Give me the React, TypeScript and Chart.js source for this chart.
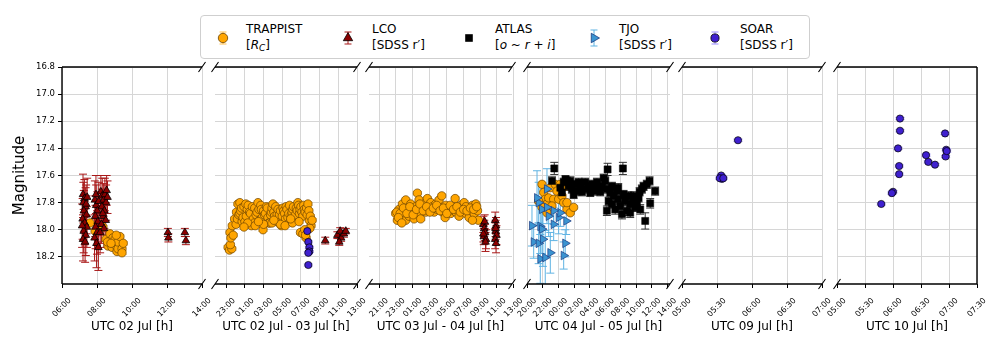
import React, { useEffect, useRef } from 'react';
import { Chart, registerables } from 'chart.js';

Chart.register(...registerables);
Chart.defaults.font.family = "'DejaVu Sans', 'Liberation Sans', sans-serif";
Chart.defaults.color = '#000';

// ---------------- DATA ----------------
const Y_TICKS = [16.8, 17.0, 17.2, 17.4, 17.6, 17.8, 18.0, 18.2];
const Y_MIN = 16.8;
const Y_MAX = 18.4;

const P1_TICKS = [6, 8, 10, 12, 14];
const P1_LABELS = ['06:00', '08:00', '10:00', '12:00', '14:00'];
const P2_TICKS = [23, 25, 27, 29, 31, 33, 35, 37];
const P2_LABELS = ['23:00', '01:00', '03:00', '05:00', '07:00', '09:00', '11:00', '13:00'];
const P3_TICKS = [21, 23, 25, 27, 29, 31, 33, 35, 37];
const P3_LABELS = ['21:00', '23:00', '01:00', '03:00', '05:00', '07:00', '09:00', '11:00', '13:00'];
const P4_TICKS = [20, 22, 24, 26, 28, 30, 32, 34, 36, 38];
const P4_LABELS = ['20:00', '22:00', '00:00', '02:00', '04:00', '06:00', '08:00', '10:00', '12:00', '14:00'];
const P5_TICKS = [5, 5.5, 6, 6.5, 7];
const P5_LABELS = ['05:00', '05:30', '06:00', '06:30', '07:00'];
const P6_TICKS = [5, 5.5, 6, 6.5, 7, 7.5];
const P6_LABELS = ['05:00', '05:30', '06:00', '06:30', '07:00', '07:30'];

const X_TITLES = [
  'UTC 02 Jul [h]',
  'UTC 02 Jul - 03 Jul [h]',
  'UTC 03 Jul - 04 Jul [h]',
  'UTC 04 Jul - 05 Jul [h]',
  'UTC 09 Jul [h]',
  'UTC 10 Jul [h]',
];
const X_RANGES: [number, number][] = [[6, 14], [21.8, 37], [19.8, 36.8], [19.95, 38.35], [5, 7], [5, 7.5]];

const SERIES_NAMES = ['TRAPPIST', 'LCO', 'ATLAS', 'TJO', 'SOAR'];

// [hour, magnitude, error]
const P1_TRAPPIST = [
  [7.6, 17.95], [7.89, 18.01], [8.34, 17.98], [8.51, 18.07], [8.63, 18.12], [8.74, 18.08], [8.74, 18.03],
  [8.86, 18.13], [8.91, 18.06], [9.03, 18.11], [9.03, 18.07], [9.14, 18.16], [9.2, 18.14], [9.2, 18.09],
  [9.31, 18.05], [9.43, 18.14], [9.43, 18.17], [9.5, 18.1], [8.6, 18.09], [8.8, 18.1], [9.1, 18.04],
];
const P1_LCO = [
  [7.2, 17.74, 0.15], [7.28, 17.77, 0.14], [7.22, 17.8, 0.15], [7.35, 17.83, 0.14], [7.25, 17.86, 0.15],
  [7.4, 17.89, 0.14], [7.18, 17.92, 0.15], [7.3, 17.95, 0.16], [7.42, 17.98, 0.15], [7.24, 18.01, 0.16],
  [7.36, 18.04, 0.15], [7.2, 18.07, 0.16], [7.32, 18.09, 0.15], [7.44, 17.76, 0.14], [7.15, 17.97, 0.16],
  [7.38, 17.81, 0.14],
  [7.88, 17.78, 0.14], [7.95, 17.82, 0.15], [8.02, 17.86, 0.14], [7.9, 17.9, 0.15], [8.05, 17.94, 0.15],
  [7.92, 17.98, 0.16], [8.0, 18.02, 0.16], [7.86, 18.06, 0.17], [7.97, 18.1, 0.18], [8.08, 18.13, 0.17],
  [7.94, 17.74, 0.14], [8.1, 17.79, 0.14],
  [8.22, 17.72, 0.12], [8.3, 17.75, 0.13], [8.38, 17.78, 0.12], [8.45, 17.74, 0.12], [8.52, 17.8, 0.13],
  [8.6, 17.76, 0.12], [8.28, 17.83, 0.13], [8.42, 17.86, 0.13], [8.35, 17.9, 0.14], [8.5, 17.93, 0.13],
  [8.25, 17.96, 0.14], [8.4, 17.99, 0.14], [8.18, 18.02, 0.15], [8.55, 17.71, 0.11], [8.33, 17.88, 0.13],
  [12.05, 18.02, 0.03], [12.08, 18.06, 0.03], [13.02, 18.02, 0.03], [13.08, 18.08, 0.03],
];

const P2_TRAPPIST = [
  [23.2, 18.13], [23.35, 18.15], [23.6, 18.14], [23.45, 18.11], [23.4, 18.02], [23.5, 18.06], [23.65, 17.97],
  [23.75, 18.04], [23.9, 17.92], [24.05, 17.96], [24.1, 17.87], [24.25, 17.81], [24.2, 17.92], [24.35, 17.89],
  [24.46, 17.8], [24.46, 17.88], [24.55, 17.86], [24.64, 17.84], [24.7, 17.94], [24.8, 17.91], [24.9, 17.83],
  [25.0, 17.94], [25.1, 17.81], [25.15, 17.9], [25.25, 17.85], [25.35, 17.82], [25.5, 17.87], [25.6, 17.88],
  [25.7, 17.97], [25.8, 17.83], [25.9, 17.92], [26.0, 17.95], [26.05, 17.84], [26.2, 17.89], [26.3, 17.87],
  [26.4, 17.8], [26.5, 17.85], [26.6, 17.93], [26.7, 17.82], [26.76, 17.85], [26.85, 17.91], [26.94, 18.0],
  [27.0, 17.86], [27.1, 17.89], [27.2, 17.88], [27.3, 17.83], [27.4, 17.84], [27.47, 17.91], [27.55, 17.95],
  [27.65, 17.95], [27.75, 17.89], [27.83, 17.87], [27.9, 17.84], [28.0, 17.81], [28.1, 17.87], [28.18, 17.9],
  [28.3, 17.83], [28.36, 17.94], [28.45, 17.89], [28.54, 17.85], [28.6, 17.92], [28.7, 17.89], [28.8, 17.86],
  [28.9, 17.97], [29.0, 17.9], [29.07, 17.84], [29.15, 17.86], [29.25, 17.88], [29.35, 17.92], [29.42, 17.83],
  [29.5, 17.85], [29.6, 17.91], [29.7, 17.88], [29.78, 17.82], [29.85, 17.94], [29.96, 17.89], [30.05, 17.87],
  [30.13, 17.85], [30.2, 17.83], [30.3, 17.93], [30.4, 17.89], [30.5, 17.84], [30.6, 17.86], [30.67, 17.8],
  [30.75, 17.82], [30.84, 17.88], [30.9, 17.85], [31.0, 17.83], [31.1, 17.87], [31.2, 17.9], [31.3, 17.82],
  [31.37, 17.85], [31.45, 17.87], [31.6, 17.84], [31.66, 17.89], [31.75, 17.81], [31.85, 17.86], [31.9, 17.93],
  [32.0, 17.9], [32.08, 17.97], [31.95, 17.99], [32.2, 17.93], [30.95, 18.02], [31.2, 18.03], [31.4, 18.0],
  [31.55, 18.06], [31.5, 18.04], [25.3, 17.95], [26.1, 17.97], [27.0, 17.96], [27.9, 17.95], [28.8, 17.96],
  [29.3, 17.97], [30.1, 17.95], [30.8, 17.94], [24.9, 17.98], [28.1, 17.93], [26.45, 17.94], [29.9, 17.92],
];
const P2_SOAR = [
  [31.68, 18.01], [31.79, 18.09], [31.9, 18.13], [31.9, 18.16], [31.79, 18.17], [31.79, 18.26],
];
const P2_LCO = [
  [33.6, 18.08, 0.025], [34.9, 18.04, 0.025], [35.2, 18.01, 0.025], [35.3, 18.06, 0.025], [35.6, 18.03, 0.025],
  [35.8, 18.01, 0.02], [35.1, 18.09, 0.025],
];

const P3_TRAPPIST = [
  [22.97, 17.88], [23.17, 17.93], [23.37, 17.85], [23.57, 17.92], [23.77, 17.9], [23.77, 17.81], [24.17, 17.78],
  [24.17, 17.93], [24.36, 17.85], [24.56, 17.9], [24.76, 17.81], [24.96, 17.86], [25.16, 17.92], [25.55, 17.73],
  [25.36, 17.83], [25.75, 17.78], [25.75, 17.88], [25.95, 17.92], [26.15, 17.84], [26.35, 17.81], [26.55, 17.87],
  [26.74, 17.77], [26.94, 17.85], [27.14, 17.8], [27.34, 17.83], [27.54, 17.87], [27.74, 17.81], [27.93, 17.85],
  [28.13, 17.78], [28.45, 17.75], [28.33, 17.84], [28.53, 17.87], [28.85, 17.91], [28.93, 17.82], [29.13, 17.86],
  [29.32, 17.84], [29.52, 17.88], [29.72, 17.83], [30.04, 17.77], [29.92, 17.86], [30.12, 17.87], [30.32, 17.84],
  [30.51, 17.9], [30.71, 17.82], [30.91, 17.86], [31.11, 17.8], [31.31, 17.88], [31.51, 17.84], [31.71, 17.91],
  [31.9, 17.86], [32.1, 17.82], [32.3, 17.88], [32.5, 17.81], [32.7, 17.86], [32.8, 17.93], [32.1, 17.93],
  [31.31, 17.83], [23.1, 17.87], [23.5, 17.88], [23.9, 17.84], [24.3, 17.88], [24.65, 17.83], [25.05, 17.89],
  [25.45, 17.85], [25.85, 17.81], [26.25, 17.86], [26.65, 17.83], [27.05, 17.87], [27.45, 17.84], [27.85, 17.82],
  [28.25, 17.86], [28.65, 17.84], [29.05, 17.88], [29.45, 17.82], [29.85, 17.85], [30.25, 17.83], [30.65, 17.87],
  [31.05, 17.85], [31.45, 17.86], [31.85, 17.84], [32.25, 17.85], [32.6, 17.83], [23.3, 17.91], [23.7, 17.95],
];
const P3_LCO = [
  [33.4, 17.96, 0.06], [33.5, 17.99, 0.06], [33.6, 18.02, 0.06], [33.45, 18.05, 0.06], [33.7, 18.07, 0.07],
  [33.55, 17.94, 0.05], [33.65, 18.09, 0.07], [33.4, 18.03, 0.06],
  [34.8, 17.93, 0.06], [34.9, 17.97, 0.06], [34.85, 18.01, 0.06], [34.95, 18.04, 0.07], [34.8, 18.07, 0.07],
  [34.9, 18.1, 0.07], [34.85, 17.99, 0.06],
];

const P4_TRAPPIST = [
  [21.88, 17.665], [22.1, 17.725], [22.3, 17.775], [22.52, 17.81], [21.88, 17.835], [22.74, 17.765], [22.95, 17.69],
  [23.59, 17.665], [23.81, 17.715], [23.38, 17.775], [24.02, 17.775], [24.45, 17.75], [24.67, 17.8], [25.09, 17.85],
  [25.52, 17.875], [25.95, 17.835], [24.23, 17.665], [24.87, 17.68], [22.52, 17.875], [21.45, 17.79], [23.16, 17.825],
  [25.09, 17.8],
];
const P4_ATLAS = [
  [23.46, 17.548, 0.045], [23.17, 17.64, 0.03], [24.67, 17.65, 0.03], [25.0, 17.64, 0.03], [25.31, 17.68, 0.03],
  [25.73, 17.7, 0.03], [26.16, 17.665, 0.03], [26.38, 17.715, 0.03], [26.8, 17.68, 0.03], [27.02, 17.72, 0.03],
  [27.44, 17.65, 0.03], [27.88, 17.68, 0.03], [28.3, 17.665, 0.03], [28.52, 17.715, 0.03], [28.95, 17.65, 0.03],
  [29.17, 17.7, 0.03], [29.59, 17.68, 0.03], [29.81, 17.62, 0.03], [30.02, 17.64, 0.03], [30.32, 17.555, 0.045],
  [30.23, 17.7, 0.03], [30.66, 17.725, 0.03], [30.45, 17.79, 0.03], [30.23, 17.86, 0.035], [30.88, 17.81, 0.03],
  [31.1, 17.75, 0.03], [31.52, 17.715, 0.03], [31.69, 17.775, 0.03], [31.95, 17.825, 0.03], [32.29, 17.548, 0.045],
  [32.38, 17.74, 0.03], [32.59, 17.79, 0.03], [32.81, 17.86, 0.035], [33.02, 17.75, 0.03], [33.23, 17.81, 0.03],
  [33.58, 17.775, 0.03], [33.87, 17.835, 0.03], [34.09, 17.8, 0.03], [34.44, 17.72, 0.03], [34.31, 17.765, 0.03],
  [34.73, 17.7, 0.03], [34.95, 17.68, 0.03], [35.37, 17.665, 0.03], [35.72, 17.64, 0.03], [36.44, 17.715, 0.03],
  [35.8, 17.805, 0.035], [35.16, 17.935, 0.06], [25.95, 17.74, 0.03], [26.59, 17.65, 0.03], [27.23, 17.7, 0.03],
  [28.09, 17.725, 0.03], [28.74, 17.68, 0.03], [29.38, 17.72, 0.03], [25.52, 17.64, 0.03], [24.24, 17.69, 0.03],
  [24.45, 17.725, 0.03], [31.3, 17.85, 0.035], [32.17, 17.885, 0.035], [33.23, 17.875, 0.035], [33.66, 17.75, 0.03],
  [30.88, 17.68, 0.03], [31.69, 17.69, 0.03], [34.52, 17.85, 0.035], [24.9, 17.63, 0.03],
];
const P4_TJO = [
  [20.59, 17.97, 0.15], [21.66, 17.975, 0.2], [21.88, 17.995, 0.18], [20.81, 18.09, 0.12], [21.45, 18.1, 0.15],
  [22.0, 18.07, 0.2], [21.66, 18.215, 0.18], [22.3, 18.205, 0.2], [22.95, 18.17, 0.15], [21.45, 17.8, 0.15],
  [21.24, 17.765, 0.2], [22.52, 17.7, 0.15], [22.74, 17.9, 0.15], [23.38, 17.96, 0.12], [24.02, 17.91, 0.12],
  [24.23, 17.875, 0.1], [25.0, 17.935, 0.1], [24.87, 18.1, 0.1], [24.67, 18.19, 0.1], [23.38, 17.86, 0.1],
  [21.88, 17.85, 0.15], [22.52, 17.835, 0.12],
];

const P5_SOAR = [
  [5.8, 17.34], [5.56, 17.6], [5.57, 17.625], [5.54, 17.62], [5.59, 17.62],
];
const P6_SOAR = [
  [6.125, 17.18], [6.125, 17.27], [6.09, 17.4], [6.11, 17.53], [6.11, 17.59], [6.0, 17.72], [5.98, 17.73],
  [5.79, 17.81], [6.59, 17.45], [6.63, 17.5], [6.75, 17.52], [6.93, 17.29], [6.95, 17.41], [6.94, 17.46],
  [6.96, 17.42],
];

// ---------------- STYLE / LAYOUT ----------------
type SeriesStyle = {
  pointStyle: string; radius: number; bg: string; border: string; bw: number;
  err: string; cap: number; rot: number; order: number; defErr: number; errW: number;
};
const STYLES: Record<string, SeriesStyle> = {
  TRAPPIST: { pointStyle: 'circle', radius: 4.2, bg: '#FFA500', border: '#6b4300', bw: 0.7, err: '#FFC04D', cap: 4.5, rot: 0, order: 5, defErr: 0.012, errW: 1 },
  LCO: { pointStyle: 'triangle', radius: 4.4, bg: '#8B0000', border: '#000', bw: 0.8, err: '#A81818', cap: 4, rot: 0, order: 4, defErr: 0.03, errW: 1 },
  ATLAS: { pointStyle: 'rect', radius: 5, bg: '#000', border: '#000', bw: 0.5, err: '#333', cap: 4, rot: 0, order: 3, defErr: 0.03, errW: 1 },
  TJO: { pointStyle: 'triangle', radius: 5, bg: '#3A94D1', border: '#1b3a80', bw: 0.7, err: '#5FB3E3', cap: 4, rot: 90, order: 2, defErr: 0.1, errW: 1 },
  SOAR: { pointStyle: 'circle', radius: 3.6, bg: '#3F20D0', border: '#000', bw: 0.7, err: '#9A8CFF', cap: 4.5, rot: 0, order: 1, defErr: 0.008, errW: 1 },
};

const PANEL_BOX: [number, number][] = [[62, 202], [215, 357], [369, 512], [527, 670], [682, 822], [837, 977]];
const PLOT_TOP = 67;
const CANVAS_H = 362;
const X_AXIS_H = 78;
const PAD = 22;

const PANEL_TICKS = [P1_TICKS, P2_TICKS, P3_TICKS, P4_TICKS, P5_TICKS, P6_TICKS];
const PANEL_LABELS = [P1_LABELS, P2_LABELS, P3_LABELS, P4_LABELS, P5_LABELS, P6_LABELS];
const PANEL_SERIES: [string, number[][]][][] = [
  [['TRAPPIST', P1_TRAPPIST], ['LCO', P1_LCO]],
  [['TRAPPIST', P2_TRAPPIST], ['LCO', P2_LCO], ['SOAR', P2_SOAR]],
  [['TRAPPIST', P3_TRAPPIST], ['LCO', P3_LCO]],
  [['TRAPPIST', P4_TRAPPIST], ['ATLAS', P4_ATLAS], ['TJO', P4_TJO]],
  [['SOAR', P5_SOAR]],
  [['SOAR', P6_SOAR]],
];

const errorBarPlugin = {
  id: 'errorBars',
  beforeDatasetsDraw(chart: any) {
    const { ctx, chartArea, scales } = chart;
    const xs = scales.x, ys = scales.y;
    ctx.save();
    ctx.beginPath();
    ctx.rect(chartArea.left, chartArea.top, chartArea.right - chartArea.left, chartArea.bottom - chartArea.top);
    ctx.clip();
    const sets = [...chart.data.datasets].sort((a: any, b: any) => b.order - a.order);
    for (const ds of sets) {
      ctx.strokeStyle = ds.errColor;
      ctx.lineWidth = ds.errWidth;
      ctx.beginPath();
      for (const p of ds.data) {
        const px = xs.getPixelForValue(p.x);
        const y0 = ys.getPixelForValue(p.y - p.e);
        const y1 = ys.getPixelForValue(p.y + p.e);
        ctx.moveTo(px, y0); ctx.lineTo(px, y1);
        ctx.moveTo(px - ds.capHalf, y0); ctx.lineTo(px + ds.capHalf, y0);
        ctx.moveTo(px - ds.capHalf, y1); ctx.lineTo(px + ds.capHalf, y1);
      }
      ctx.stroke();
    }
    ctx.restore();
  },
};

const framePlugin = {
  id: 'frame',
  afterDraw(chart: any, _args: any, opts: any) {
    const { ctx, chartArea } = chart;
    const { left, right, top, bottom } = chartArea;
    ctx.save();
    ctx.strokeStyle = '#000';
    ctx.lineWidth = 1.4;
    ctx.beginPath();
    ctx.moveTo(left, top); ctx.lineTo(right, top);
    ctx.moveTo(left, bottom); ctx.lineTo(right, bottom);
    if (opts.leftSpine) { ctx.moveTo(left, top); ctx.lineTo(left, bottom); }
    if (opts.rightSpine) { ctx.moveTo(right, top); ctx.lineTo(right, bottom); }
    ctx.stroke();
    ctx.lineWidth = 1.1;
    ctx.beginPath();
    const marks: [number, number][] = [];
    if (opts.breakLeft) marks.push([left, top], [left, bottom]);
    if (opts.breakRight) marks.push([right, top], [right, bottom]);
    for (const [mx, my] of marks) {
      ctx.moveTo(mx - 3.5, my + 5);
      ctx.lineTo(mx + 3.5, my - 5);
    }
    ctx.stroke();
    ctx.restore();
  },
};

function Panel({ idx }: { idx: number }) {
  const ref = useRef<HTMLCanvasElement>(null);
  const [bl, br] = PANEL_BOX[idx];
  const first = idx === 0;
  const last = idx === PANEL_BOX.length - 1;
  const canvasLeft = first ? 0 : bl - PAD;
  const canvasW = br + PAD - canvasLeft;

  useEffect(() => {
    const ticks = PANEL_TICKS[idx];
    const labels = PANEL_LABELS[idx];
    const datasets = PANEL_SERIES[idx].map(([name, arr]) => {
      const s = STYLES[name];
      return {
        label: name,
        data: arr.map((r) => ({ x: r[0], y: r[1], e: r[2] ?? s.defErr })),
        pointStyle: s.pointStyle,
        pointRadius: s.radius,
        pointHoverRadius: s.radius,
        pointRotation: s.rot,
        pointBackgroundColor: s.bg,
        pointBorderColor: s.border,
        pointBorderWidth: s.bw,
        order: s.order,
        errColor: s.err,
        errWidth: s.errW,
        capHalf: s.cap,
        showLine: false,
      } as any;
    });

    const chart = new Chart(ref.current as HTMLCanvasElement, {
      type: 'scatter',
      data: { datasets },
      plugins: [errorBarPlugin, framePlugin],
      options: {
        responsive: false,
        animation: false,
        devicePixelRatio: 1,
        layout: { padding: { left: first ? 0 : PAD, right: PAD, top: PLOT_TOP, bottom: 0 } },
        plugins: {
          legend: { display: false },
          tooltip: { enabled: false },
          frame: { leftSpine: first, rightSpine: last, breakLeft: !first, breakRight: !last },
        } as any,
        events: [],
        scales: {
          x: {
            type: 'linear',
            min: X_RANGES[idx][0],
            max: X_RANGES[idx][1],
            afterBuildTicks: (scale: any) => { scale.ticks = ticks.map((v) => ({ value: v })); },
            afterFit: (scale: any) => { scale.height = X_AXIS_H; scale.paddingLeft = 0; scale.paddingRight = 0; },
            ticks: {
              autoSkip: false,
              minRotation: 45,
              maxRotation: 45,
              padding: 8,
              labelOffset: 8,
              font: { size: 8 },
              color: '#000',
              callback: (_v: any, i: number) => labels[i],
            },
            grid: { color: '#d6d6d6', lineWidth: 1, tickColor: '#000', tickLength: 4, tickWidth: 1 },
            border: { display: false },
            title: { display: true, text: X_TITLES[idx], font: { size: 12 }, color: '#000', padding: { top: 0, bottom: 28 } },
          },
          y: {
            type: 'linear',
            reverse: true,
            min: Y_MIN,
            max: Y_MAX,
            afterBuildTicks: (scale: any) => { scale.ticks = Y_TICKS.map((v) => ({ value: v })); },
            afterFit: (scale: any) => { scale.width = first ? bl : 0; scale.paddingTop = 0; scale.paddingBottom = 0; },
            ticks: {
              display: first,
              padding: 3,
              font: { size: 8.5 },
              color: '#000',
              callback: (v: any) => Number(v).toFixed(1),
            },
            grid: { color: '#d6d6d6', lineWidth: 1, tickColor: '#000', tickLength: 4, drawTicks: first },
            border: { display: false },
            title: { display: first, text: 'Magnitude', font: { size: 15 }, color: '#000', padding: { top: 11, bottom: 0 } },
          },
        },
      } as any,
    });
    return () => chart.destroy();
  }, [idx]);

  return (
    <canvas
      ref={ref}
      width={canvasW}
      height={CANVAS_H}
      style={{ position: 'absolute', left: canvasLeft, top: 0, width: canvasW, height: CANVAS_H }}
    />
  );
}

// ---------------- LEGEND ----------------
const LEGEND_SUB = [
  <span key="t">[<i>R</i><sub style={{ fontSize: 9, verticalAlign: -2 }}><i>C</i></sub>]</span>,
  <span key="l">[SDSS r′]</span>,
  <span key="a">[<i>o</i> ~ <i>r</i> + <i>i</i>]</span>,
  <span key="j">[SDSS r′]</span>,
  <span key="s">[SDSS r′]</span>,
];
const LEGEND_MARK_X = [22, 147, 268, 393, 514];
const LEGEND_TEXT_X = [45, 171, 294, 418, 539];

function Marker({ name }: { name: string }) {
  const s = STYLES[name];
  const c = 10;
  const eh = name === 'TJO' ? 8 : 6;
  const err = (
    <g stroke={s.err} strokeWidth={1}>
      <line x1={c} y1={c - eh} x2={c} y2={c + eh} />
      <line x1={c - 3.5} y1={c - eh} x2={c + 3.5} y2={c - eh} />
      <line x1={c - 3.5} y1={c + eh} x2={c + 3.5} y2={c + eh} />
    </g>
  );
  let shape: React.ReactNode = null;
  if (name === 'TRAPPIST' || name === 'SOAR') {
    shape = <circle cx={c} cy={c} r={s.radius + 0.5} fill={s.bg} stroke={s.border} strokeWidth={0.8} />;
  } else if (name === 'LCO') {
    const r = s.radius + 1;
    shape = <polygon points={`${c},${c - r} ${c + r * 0.866},${c + r / 2} ${c - r * 0.866},${c + r / 2}`} fill={s.bg} stroke={s.border} strokeWidth={0.8} />;
  } else if (name === 'ATLAS') {
    shape = <rect x={c - 3.8} y={c - 3.8} width={7.6} height={7.6} fill="#000" />;
  } else {
    const r = s.radius + 0.5;
    shape = <polygon points={`${c + r},${c} ${c - r / 2},${c - r * 0.866} ${c - r / 2},${c + r * 0.866}`} fill={s.bg} stroke={s.border} strokeWidth={0.8} />;
  }
  return (
    <svg width={20} height={20} style={{ position: 'absolute', left: -10, top: -10 }}>
      {name === 'ATLAS' ? null : err}
      {shape}
    </svg>
  );
}

function Legend() {
  return (
    <div
      style={{
        position: 'absolute', left: 200, top: 15, width: 610, height: 44, boxSizing: 'border-box',
        border: '1px solid #cfcfcf', borderRadius: 4, background: '#fff',
        fontFamily: "'DejaVu Sans', sans-serif", fontSize: 12, color: '#000',
      }}
    >
      {SERIES_NAMES.map((n, i) => (
        <React.Fragment key={n}>
          <div style={{ position: 'absolute', left: LEGEND_MARK_X[i], top: 22, width: 0, height: 0 }}>
            <Marker name={n} />
          </div>
          <div style={{ position: 'absolute', left: LEGEND_TEXT_X[i], top: 5, lineHeight: '16px', whiteSpace: 'nowrap' }}>
            <div>{n}</div>
            <div>{LEGEND_SUB[i]}</div>
          </div>
        </React.Fragment>
      ))}
    </div>
  );
}

export default function App() {
  return (
    <div style={{ position: 'fixed', left: 0, top: 0, width: 1000, height: 362, background: '#fff', overflow: 'hidden' }}>
      {PANEL_BOX.map((_, i) => <Panel key={i} idx={i} />)}
      <Legend />
    </div>
  );
}
